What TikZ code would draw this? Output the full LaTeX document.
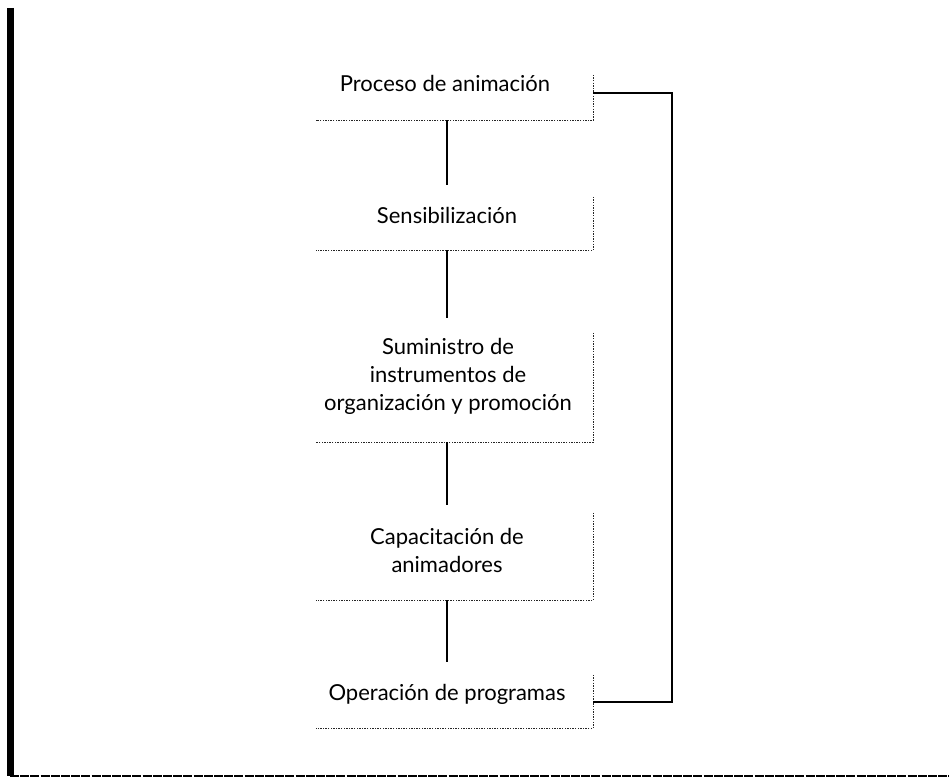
\documentclass[tikz,border=0pt]{standalone}
\usepackage{fontspec}
\setmainfont{Lato}
\begin{document}
\begin{tikzpicture}[x=1pt,y=-1pt,
  boxshape/.style={minimum width=277pt, inner sep=0pt, draw=none},
  dotline/.style={line width=1.3pt, dash pattern=on 1.4pt off 1.2pt, black!85},
  conn/.style={line width=1.6pt, black},
  fb/.style={line width=1.8pt, black},
  lbl/.style={font=\fontsize{22}{28}\selectfont, align=center, inner sep=0pt, anchor=base},
  frame/.style={line width=7pt, black},
  floor/.style={line width=2.6pt, black, dash pattern=on 9pt off 1.2pt}]
\useasboundingbox (0,0) rectangle (949,781);
% frame of the page
\coordinate (ftop) at (10,8);
\coordinate (fcorner) at (10,776);
\coordinate (fend) at (949,776);
\draw[frame] (ftop) -- (fcorner);
\draw[floor] (fcorner) -- (fend);
% boxes (only right and bottom edges drawn)
\node[boxshape, minimum height=45pt] (b1) at (454.5,97.5) {};
\node[boxshape, minimum height=53pt] (b2) at (454.5,223.5) {};
\node[boxshape, minimum height=109pt] (b3) at (454.5,387.5) {};
\node[boxshape, minimum height=87pt] (b4) at (454.5,556.5) {};
\node[boxshape, minimum height=53pt] (b5) at (454.5,701.5) {};
\foreach \b in {b1,b2,b3,b4,b5}{
  \draw[dotline] (\b.north east) -- (\b.south east) -- (\b.south west);
}
% labels (base anchor = baseline of the last line)
\node[lbl] (t1) at (445,92) {Proceso de animación};
\node[lbl] (t2) at (447,223) {Sensibilización};
\node[lbl] (t3) at (448,410) {Suministro de\\instrumentos de\\organización y promoción};
\node[lbl] (t4) at (447,572) {Capacitación de\\animadores};
\node[lbl] (t5) at (447,700) {Operación de programas};
% connectors
\coordinate (e1) at (447,185);
\coordinate (e2) at (447,318);
\coordinate (e3) at (447,505);
\coordinate (e4) at (447,662);
\draw[conn] (b1.south -| e1) -- (e1);
\draw[conn] (b2.south -| e2) -- (e2);
\draw[conn] (b3.south -| e3) -- (e3);
\draw[conn] (b4.south -| e4) -- (e4);
% feedback loop
\coordinate (f1) at (672,93);
\coordinate (f2) at (672,702);
\draw[fb] (b1.east |- f1) -- (f1) -- (f2) -- (b5.east |- f2);
\end{tikzpicture}
\end{document}
